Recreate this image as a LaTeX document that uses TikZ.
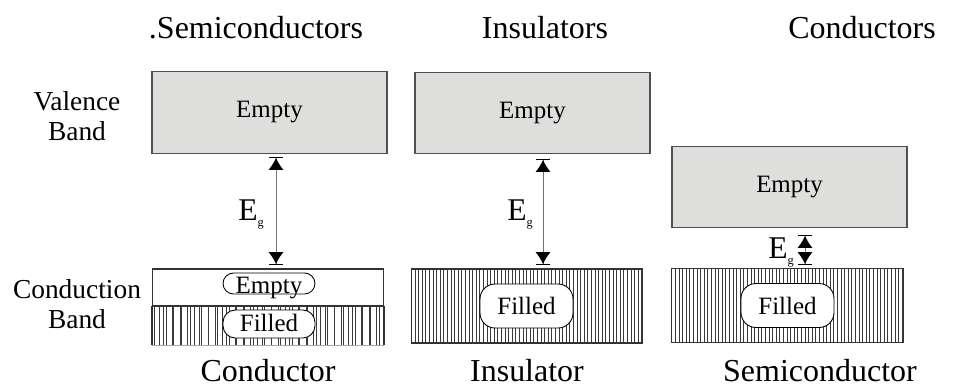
\documentclass[tikz,border=0pt]{standalone}
\usepackage{fontspec}
\setmainfont{Liberation Serif}
\usetikzlibrary{arrows.meta,positioning}
\definecolor{bandgray}{HTML}{DEDEDC}
\definecolor{bandedge}{HTML}{505050}
\definecolor{hatchgray}{HTML}{3A3A3A}

\newcommand{\egap}{E\raisebox{-3.6pt}{\fontsize{7}{7}\selectfont g}}

\begin{document}
\begin{tikzpicture}[
  x=0.02cm, y=-0.02cm,
  title/.style={font=\fontsize{18.2}{21}\selectfont, anchor=base},
  side/.style={font=\fontsize{15.6}{17}\selectfont, align=center},
  band/.style={draw=bandedge, line width=0.8pt, fill=bandgray, minimum width=4.7cm, minimum height=1.63cm, inner sep=0pt, font=\fontsize{14.2}{16}\selectfont},
  lowband/.style={draw=black!80, line width=0.8pt, fill=white, minimum width=4.63cm, minimum height=1.48cm, inner sep=0pt},
  hatched/.style={path picture={\foreach \i in {1,...,64} \draw[hatchgray, line width=0.35pt] ([xshift=\i*0.072cm]path picture bounding box.south west) -- ([xshift=\i*0.072cm]path picture bounding box.north west);}},
  irregular/.style={path picture={
    \foreach \i in {1,...,33} \draw[hatchgray, line width=0.5pt] ([xshift=\i*0.14cm]path picture bounding box.south west) -- ([xshift=\i*0.14cm]path picture bounding box.north west);
    \foreach \i in {0,...,25} \draw[hatchgray, line width=0.5pt] ([xshift=\i*0.18cm+0.05cm]path picture bounding box.south west) -- ([xshift=\i*0.18cm+0.05cm]path picture bounding box.north west);}},
  pill/.style={draw=black, line width=0.5pt, fill=white, rounded corners=8.5pt, minimum width=1.86cm, minimum height=0.88cm, inner sep=0pt, font=\fontsize{14.2}{16}\selectfont},
  smallpill/.style={pill, minimum width=1.84cm},
  gaparrow/.style={draw=black!55, line width=0.5pt, {Bar[width=8.5pt,black]Latex[length=6.8pt,width=8.5pt,black]}-{Latex[length=6.8pt,width=8.5pt,black]Bar[width=8.5pt,black]}},
  eglabel/.style={font=\fontsize{18}{20}\selectfont, inner sep=0pt, anchor=base west}
]
\useasboundingbox (0,0) rectangle (955,390);

% titles
\node[title] (ttlsemi) at (256,38) {.Semiconductors};
\node[title] (ttlins) at (545,38) {Insulators};
\node[title] (ttlcond) at (862,38) {Conductors};

% side labels
\node[side] (lblval) at (77,116) {Valence\\Band};
\node[side] (lblcon) at (77,304) {Conduction\\Band};

% conductor
\node[band] (condval) at (269.5,112.5) {Empty};
\node[lowband, minimum height=0.74cm] (condempty) at (268,287.5) {};
\node[minimum width=4.63cm, minimum height=0.78cm, inner sep=0pt, irregular] (condfill) at (268,325.5) {};
\draw[black!80, line width=0.8pt] (condfill.north west) -- (condfill.south west) (condfill.north east) -- (condfill.south east);
\draw[black!35, line width=0.3pt] (condfill.south west) -- (condfill.south east);
\node[smallpill, minimum height=0.42cm, text height=11.4pt, text depth=0.5pt, rounded corners=6pt] (condpe) at (269,283.5) {Empty};
\node[smallpill, minimum height=0.56cm, text height=12.4pt, text depth=3.5pt, rounded corners=7pt] (condpf) at (269,324) {Filled};
\coordinate (condtop) at (276,157);
\coordinate (condbot) at (276,265);
\draw[gaparrow] (condtop) -- (condbot);
\node[eglabel] (condeg) at (238,220) {\egap};

% insulator
\node[band] (insval) at (532.5,113) {Empty};
\node[lowband, hatched] (inscb) at (527,306) {};
\node[pill] (inspf) at (526.5,306) {Filled};
\coordinate (instop) at (543,159);
\coordinate (insbot) at (543,265);
\draw[gaparrow] (instop) -- (insbot);
\node[eglabel] (inseg) at (507,220) {\egap};

% semiconductor
\node[band] (semival) at (789.5,187) {Empty};
\node[lowband, hatched] (semicb) at (787.5,305.5) {};
\node[pill] (semipf) at (787.5,305.5) {Filled};
\coordinate (semitop) at (805,235);
\coordinate (semibot) at (805,265);
\draw[gaparrow] (semitop) -- (semibot);
\node[eglabel] (semieg) at (768,258) {\egap};

% bottom labels
\node[title] (btmcond) at (268,381) {Conductor};
\node[title] (btmins) at (527,381) {Insulator};
\node[title] (btmsemi) at (820,381) {Semiconductor};
\end{tikzpicture}
\end{document}
